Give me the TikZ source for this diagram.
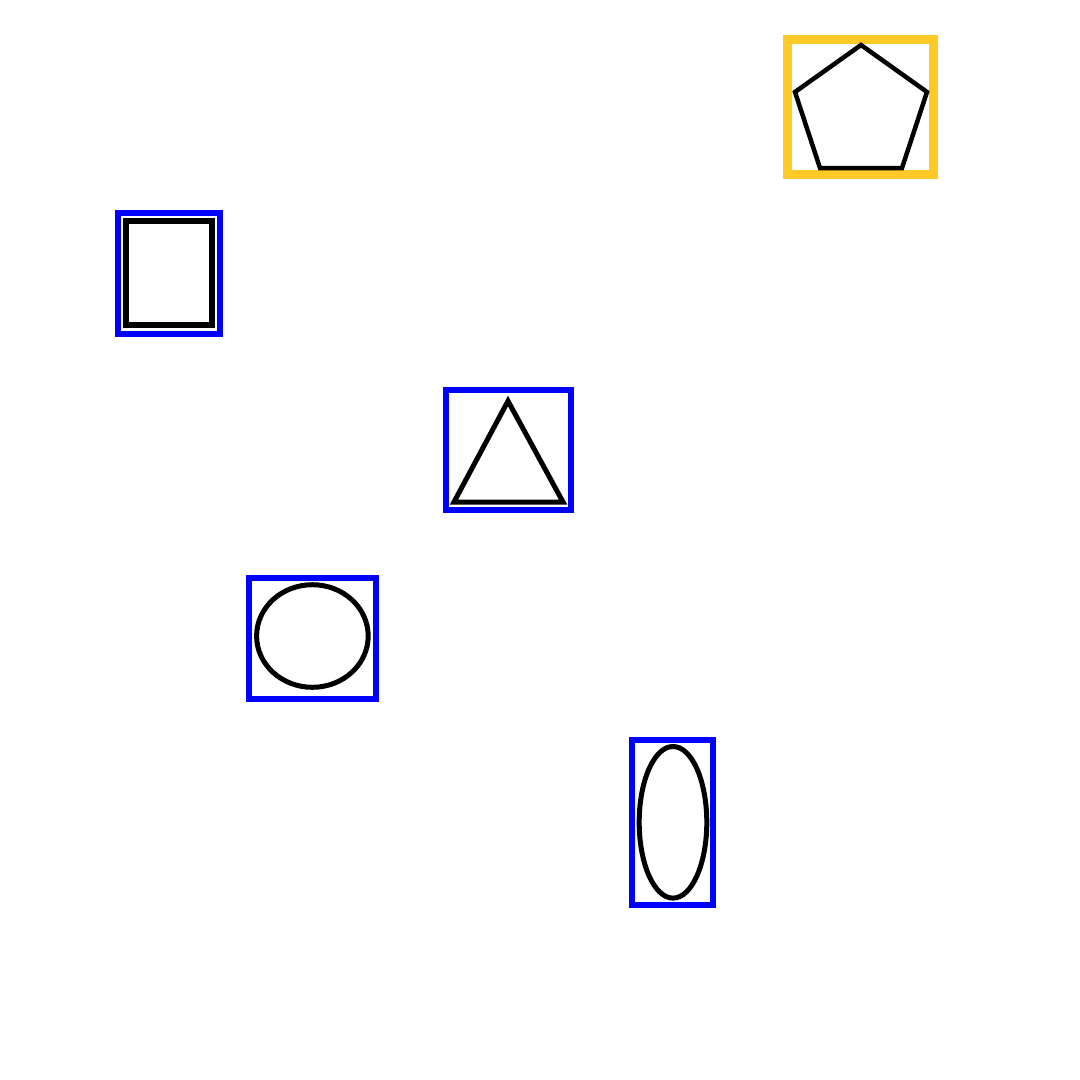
\documentclass[tikz,border=0pt]{standalone}
\definecolor{frameyellow}{RGB}{255,202,40}
\definecolor{frameblue}{RGB}{0,0,255}
\tikzset{
  bluebox/.style={draw=frameblue,line width=6pt},
  yellowbox/.style={draw=frameyellow,line width=9.5pt},
  shapeline/.style={draw=black,line width=5pt,line join=miter},
}
\begin{document}
\begin{tikzpicture}[x=1pt,y=-1pt]
\useasboundingbox[fill=white] (0,0) rectangle (1080,1080);
% pentagon
\draw[yellowbox] (787.5,39.5) rectangle (933.5,174.5);
\draw[shapeline,line width=4.5pt] (861,45) -- (927,92) -- (902,168) -- (820,168) -- (795,92) -- cycle;
% rectangle
\draw[bluebox] (117.5,212.5) rectangle (220,333.8);
\draw[shapeline,line width=6pt] (125.7,221) rectangle (212.2,324.7);
% triangle
\draw[bluebox] (445.5,390) rectangle (571,510);
\draw[shapeline] (508,401) -- (563,502) -- (454,502) -- cycle;
% circle
\draw[bluebox] (249,577.7) rectangle (375.7,698.7);
\draw[shapeline] (312.4,636) ellipse [x radius=55.8,y radius=51.3];
% ellipse
\draw[bluebox] (632.3,740.3) rectangle (713,904.7);
\draw[shapeline] (673,822.3) ellipse [x radius=33.8,y radius=75.8];
\end{tikzpicture}
\end{document}
